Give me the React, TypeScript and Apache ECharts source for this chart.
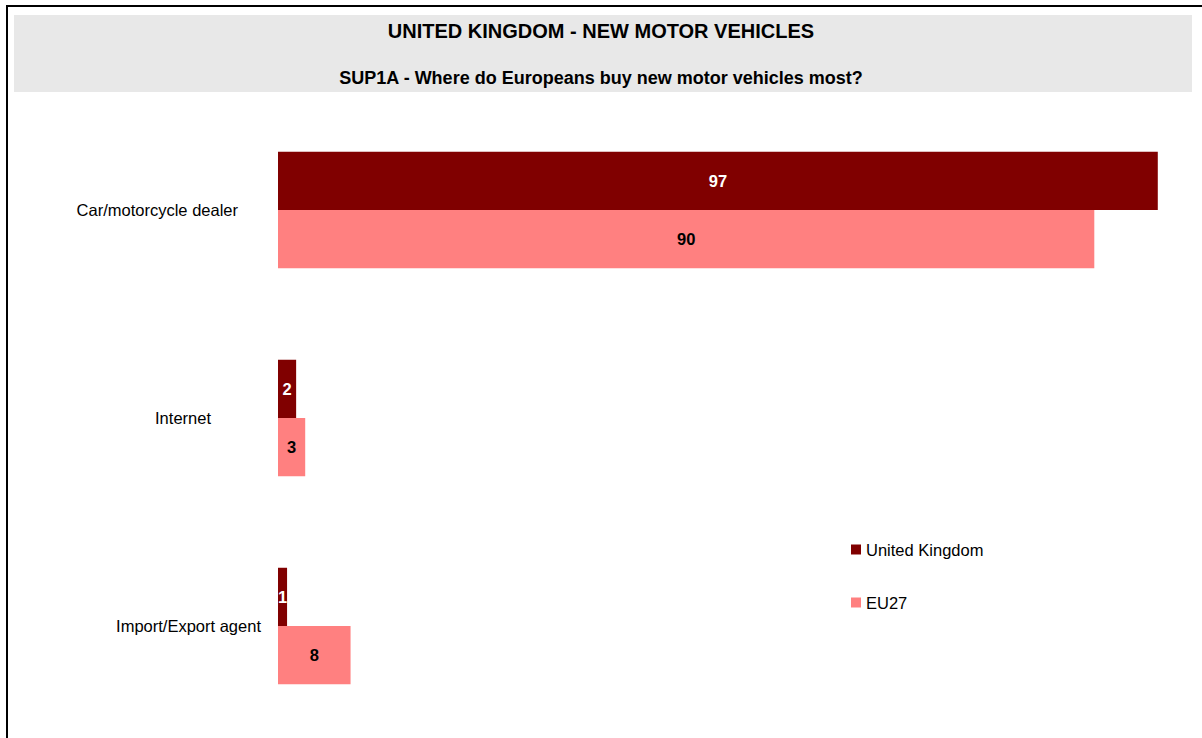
import React, { useEffect, useRef } from "react";
import * as echarts from "echarts";

const categories = ["Car/motorcycle dealer", "Internet", "Import/Export agent"];
const ukValues = [97, 2, 1];
const eu27Values = [90, 3, 8];
const seriesNames = ["United Kingdom", "EU27"];
const titleText = "UNITED KINGDOM - NEW MOTOR VEHICLES";
const subtitleText = "SUP1A - Where do Europeans buy new motor vehicles most?";

const labelPad = [23, 50, 0];

export default function App() {
  const ref = useRef<HTMLDivElement>(null);
  useEffect(() => {
    if (!ref.current) return;
    const chart = echarts.init(ref.current, undefined, { renderer: "svg" });
    const font = "Liberation Sans, Arial, sans-serif";
    const fs = 16.5;
    const rich: any = {};
    categories.forEach((_, i) => {
      rich["c" + i] = {
        fontSize: fs,
        fontFamily: font,
        color: "#000",
        padding: [0, labelPad[i], 0, 0],
      };
    });
    chart.setOption({
      animation: false,
      backgroundColor: "#fff",
      textStyle: { fontFamily: font },
      graphic: [
        { type: "rect", shape: { x: 14, y: 15, width: 1178, height: 77 }, style: { fill: "#E8E8E8" }, z: -1 },
        { type: "line", shape: { x1: 6, y1: 6, x2: 1202, y2: 6 }, style: { stroke: "#000", lineWidth: 2 } },
        { type: "line", shape: { x1: 7, y1: 6, x2: 7, y2: 738 }, style: { stroke: "#000", lineWidth: 2 } },
      ],
      title: [
        {
          text: titleText,
          left: "center",
          top: 16,
          textStyle: { fontSize: 20, fontWeight: "bold", color: "#000", fontFamily: font },
        },
        {
          text: subtitleText,
          left: "center",
          top: 64,
          textStyle: { fontSize: 18, fontWeight: "bold", color: "#000", fontFamily: font },
        },
      ],
      legend: {
        orient: "vertical",
        left: 851,
        top: 541,
        padding: 0,
        itemWidth: 10,
        itemHeight: 10,
        itemGap: 36,
        icon: "rect",
        textStyle: { fontSize: fs, color: "#000", fontFamily: font },
        data: seriesNames,
      },
      grid: { left: 278, top: 106, width: 907, height: 624, containLabel: false },
      xAxis: {
        type: "value",
        min: 0,
        max: 100,
        show: false,
      },
      yAxis: {
        type: "category",
        inverse: true,
        data: categories,
        axisLine: { show: false },
        axisTick: { show: false },
        splitLine: { show: false },
        axisLabel: {
          margin: 17,
          formatter: (v: string) => {
            const i = categories.indexOf(v);
            return "{c" + i + "|" + v + "}";
          },
          rich,
        },
      },
      series: [
        {
          name: seriesNames[0],
          type: "bar",
          data: ukValues,
          itemStyle: { color: "#800000" },
          barGap: "0%",
          barCategoryGap: "44%",
          label: {
            show: true,
            position: "inside",
            color: "#fff",
            fontWeight: "bold",
            fontSize: fs,
            fontFamily: font,
          },
        },
        {
          name: seriesNames[1],
          type: "bar",
          data: eu27Values,
          itemStyle: { color: "#FF8080" },
          barGap: "0%",
          barCategoryGap: "44%",
          label: {
            show: true,
            position: "inside",
            color: "#000",
            fontWeight: "bold",
            fontSize: fs,
            fontFamily: font,
          },
        },
      ],
    });
    return () => chart.dispose();
  }, []);
  return (
    <div
      ref={ref}
      style={{ position: "absolute", left: 0, top: 0, width: 1202, height: 738 }}
    />
  );
}
